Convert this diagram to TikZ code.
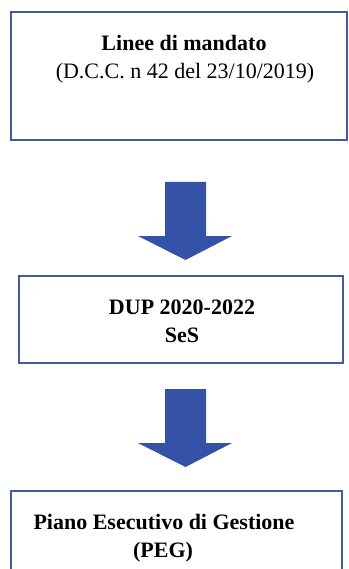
\documentclass[tikz,border=0pt]{standalone}
\usepackage{fontspec}
\setmainfont{Liberation Serif}
\begin{document}
\begin{tikzpicture}[x=1pt,y=-1pt,
  boxstyle/.style={draw=boxblue,line width=2pt,fill=white,rectangle,inner sep=0pt},
  txt/.style={font=\fontsize{22}{26}\selectfont,inner sep=0pt,anchor=center},
  bigarrow/.style={fill=arrowblue,draw=none}]
\definecolor{boxblue}{HTML}{3D5BAA}
\definecolor{arrowblue}{HTML}{3553A6}
\useasboundingbox (0,0) rectangle (348,569);
\clip (0,0) rectangle (348,569);
% boxes
\node[boxstyle,minimum width=336pt,minimum height=128pt] (box1) at (179,76) {};
\node[boxstyle,minimum width=324pt,minimum height=87pt] (box2) at (181,319.5) {};
\node[boxstyle,minimum width=331pt,minimum height=119pt] (box3) at (176.5,550.5) {};
% texts
\node[txt] (t1a) at (184,43) {\textbf{Linee di mandato}};
\node[txt] (t1b) at (185,73) {(D.C.C. n 42 del 23/10/2019)};
\node[txt] (t2a) at (182,307) {\textbf{DUP 2020-2022}};
\node[txt] (t2b) at (182,335) {\textbf{SeS}};
\node[txt] (t3a) at (164,522) {\textbf{Piano Esecutivo di Gestione}};
\node[txt] (t3b) at (163,552) {\textbf{(PEG)}};
% arrows
\fill[bigarrow] (165,182) -- (206,182) -- (206,236) -- (232,236) -- (185.5,260) -- (138,236) -- (165,236) -- cycle;
\fill[bigarrow] (165,389) -- (206,389) -- (206,443) -- (232,443) -- (185.5,467) -- (138,443) -- (165,443) -- cycle;
\end{tikzpicture}
\end{document}
